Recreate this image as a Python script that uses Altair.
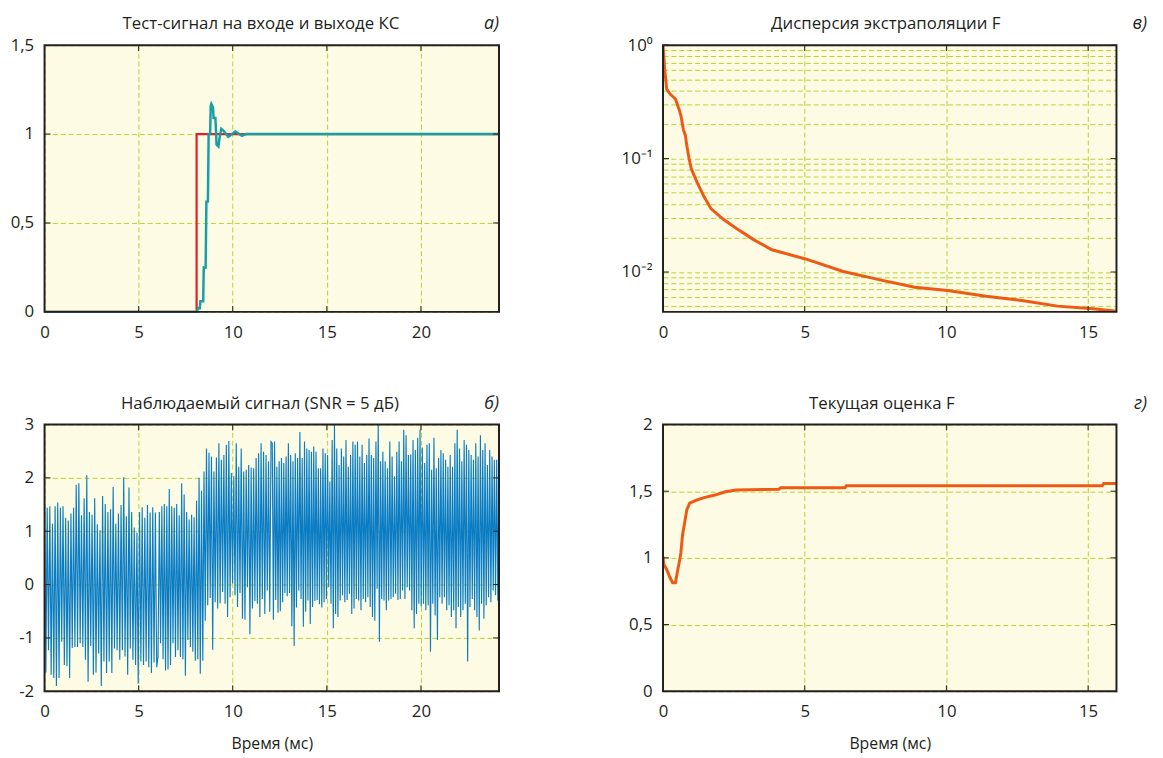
import altair as alt
import pandas as pd
import numpy as np

FONT = "Open Sans"
INK = "#231F20"
BG = "#FDFBE3"
GRID = "#B8D232"
WL, WR, H = 460, 459, 270

# ---------------- panel а: test signal in/out ----------------
step_t = [0.0, 8.08, 8.08, 24.15]
step_v = [0.0, 0.0, 1.0, 1.0]
resp_t = [0.0, 8.10, 8.15, 8.25, 8.28, 8.43, 8.46, 8.56, 8.60, 8.68, 8.72, 8.80, 8.83,
          8.86, 8.95, 8.98, 9.08, 9.14, 9.24, 9.30, 9.39, 9.50, 9.76, 10.14, 10.49, 10.70, 24.15]
resp_v = [0.0, 0.0, 0.02, 0.02, 0.06, 0.06, 0.25, 0.25, 0.62, 0.62, 1.0, 1.0, 1.16,
          1.17, 1.15, 1.09, 1.09, 0.94, 0.93, 0.98, 1.03, 1.02, 0.985, 1.015, 0.99, 1.0, 1.0]

# ---------------- panel б: observed signal ----------------
seg_bounds = [0.0, 6.1, 12.1, 18.1, 24.15]
peaks1 = [1.53, 1.44, 1.47, 1.14, 1.47, 1.54, 1.44, 1.47, 1.25, 1.2, 1.33, 1.44, 1.87, 1.9, 1.30,
          1.62, 2.05, 1.36, 1.31, 1.62, 1.13, 1.02, 1.66, 1.51, 1.36, 1.41, 1.83, 1.14, 1.33, 1.49,
          2.01, 1.28, 1.82, 1.36, 1.07, 0.97, 1.36, 1.45, 1.25, 1.49, 1.35, 1.45, 1.35]
troughs1 = [-1.65, -1.23, -1.69, -1.75, -1.9, -1.75, -1.07, -1.51, -1.53, -1.75, -1.19, -1.17, -1.17,
            -1.1, -1.17, -1.41, -1.82, -1.15, -1.69, -1.65, -1.29, -1.9, -1.44, -1.66, -1.44, -1.66,
            -1.2, -1.23, -1.41, -1.23, -1.35, -1.69, -1.2, -1.41, -1.51, -1.86, -1.44, -1.51, -1.44,
            -1.55, -1.66, -1.46, -1.55, -1.35]
peaks2 = [1.36, 1.47, 1.51, 1.47, 1.79, 1.47, 1.44, 1.51, 1.30, 1.90, 1.69, 1.36, 1.22, 1.31, 1.26,
          1.57, 2.0, 1.76, 2.12, 2.55, 2.47, 2.40, 2.12, 2.38, 2.65, 2.34, 2.43, 2.62, 2.69, 2.09,
          2.03, 2.65, 2.21, 2.55, 2.12, 2.15, 2.24, 2.19, 2.18, 2.37, 2.46, 2.65, 2.49, 2.43, 2.31, 2.68]
troughs2 = [-1.1, -1.4, -1.61, -1.59, -1.51, -1.1, -1.36, -1.23, -1.36, -1.4, -1.71, -1.04, -1.17,
            -1.26, -1.43, -1.4, -1.67, -1.43, -0.68, -0.39, -0.25, -1.22, -0.33, -0.45, -0.35, -0.14,
            -0.36, -0.61, -0.24, 0.02, -0.2, -0.42, -0.16, -0.64, -0.66, -0.05, -0.93, -0.45, -0.31,
            -0.36, -0.61, -0.27, -0.55, -0.11, -0.51]
peaks3 = [2.65, 2.68, 2.21, 2.31, 2.37, 2.28, 2.40, 2.65, 2.43, 2.31, 2.46, 2.37, 2.86, 2.37, 2.68,
          2.55, 2.52, 2.49, 2.59, 2.49, 2.18, 2.18, 2.55, 2.46, 2.43, 1.93, 2.71, 3.0, 2.55, 2.24,
          2.55, 2.40, 2.71, 2.21, 2.43, 2.68, 2.62, 2.68, 2.40, 2.62, 2.28, 2.43, 2.74, 2.43, 2.37,
          2.68, 3.0, 2.31, 2.49]
troughs3 = [-0.66, -0.29, -0.53, -0.5, -0.33, -0.16, -0.22, -0.16, -0.78, -1.15, -0.43, -0.11, -0.27,
            -0.79, -0.51, -0.3, -0.74, -0.42, -0.31, -0.29, -0.37, -0.43, -0.33, -0.27, -0.05, -0.36,
            -0.82, -0.55, -0.61, -0.3, -0.2, -0.33, -0.29, -0.17, -0.55, -0.45, -0.27, -0.3, -0.48,
            -0.27, -0.33, -0.24, -0.42, -0.61, -0.68, -0.08, -1.07, -0.27, -0.3]
peaks4 = [2.31, 2.18, 2.68, 2.40, 2.03, 2.49, 2.68, 2.31, 2.9, 2.8, 2.43, 2.44, 2.71, 2.52, 2.75,
          2.9, 2.57, 2.28, 2.62, 2.65, 2.15, 2.75, 2.18, 2.37, 2.52, 2.46, 2.34, 2.21, 2.43, 2.21,
          2.65, 2.9, 2.55, 2.31, 2.71, 2.62, 2.52, 2.43, 2.34, 2.65, 2.40, 2.8, 2.52, 2.65, 2.24,
          2.52, 2.40, 2.34, 2.34, 2.34]
troughs4 = [-0.48, -0.3, -0.27, -0.24, -0.17, -0.29, -0.27, -0.11, -0.27, -0.05, -0.11, -0.48, -0.82,
            -0.55, -0.36, -0.41, -0.36, -0.48, -0.39, -1.26, -0.36, -0.58, -1.04, -0.24, -0.36, -0.24,
            -0.48, -0.39, -0.61, -0.48, -0.82, -0.42, -0.61, -0.48, -0.36, -1.44, -0.42, -0.27, -0.48,
            -0.61, -0.86, -0.36, -0.64, -0.39, -0.24, -0.33, -0.11, -0.2, -0.3]

# ---------------- panel в: extrapolation variance ----------------
disp_t = [0.0, 0.06, 0.13, 0.25, 0.44, 0.57, 0.63, 0.72, 0.79, 0.84, 0.92, 1.0, 1.2, 1.45, 1.7,
          2.14, 2.58, 3.21, 3.84, 5.0, 6.36, 7.62, 8.88, 10.04, 11.4, 12.66, 13.92, 15.18, 16.0]
disp_v = [1.0, 0.61, 0.41, 0.37, 0.335, 0.27, 0.24, 0.18, 0.16, 0.13, 0.1, 0.081, 0.062, 0.046,
          0.036, 0.029, 0.0243, 0.0192, 0.0157, 0.0131, 0.0101, 0.00857, 0.00734, 0.00687,
          0.00612, 0.00561, 0.005, 0.00474, 0.0045]

# ---------------- panel г: current estimate ----------------
est_t = [0.0, 0.03, 0.13, 0.25, 0.34, 0.44, 0.5, 0.57, 0.63, 0.69, 0.76, 0.84, 0.94, 1.2, 1.45,
         1.83, 2.2, 2.58, 4.09, 4.15, 6.42, 6.47, 15.5, 15.55, 16.0]
est_v = [1.012, 0.95, 0.913, 0.851, 0.814, 0.814, 0.888, 0.963, 1.037, 1.174, 1.26, 1.36, 1.41,
         1.434, 1.452, 1.471, 1.496, 1.509, 1.514, 1.526, 1.526, 1.541, 1.541, 1.558, 1.558]

log_major = [0.01, 0.1, 1]
log_grid = [0.005, 0.006, 0.007, 0.008, 0.009, 0.01, 0.02, 0.03, 0.04, 0.05, 0.06, 0.07, 0.08,
            0.09, 0.1, 0.2, 0.3, 0.4, 0.5, 0.6, 0.7, 0.8, 0.9, 1]

# ---------------- build signal table ----------------
sig_rows = []
segs = [(peaks1, troughs1), (peaks2, troughs2), (peaks3, troughs3), (peaks4, troughs4)]
for i, (pk, tr) in enumerate(segs):
    vals = []
    for j in range(max(len(pk), len(tr))):
        if j < len(pk):
            vals.append(pk[j])
        if j < len(tr):
            vals.append(tr[j])
    last = i == len(segs) - 1
    ts = np.linspace(seg_bounds[i], seg_bounds[i + 1], len(vals), endpoint=last)
    sig_rows += [{"t": float(a), "v": b} for a, b in zip(ts, vals)]
sig_df = pd.DataFrame(sig_rows)

NUM = "replace(replace(format(datum.value, '~g'), '.', ','), '\u2212', '-')"


def X(domain, values, title=None):
    return alt.X("t:Q", scale=alt.Scale(domain=domain, nice=False, zero=False),
                 axis=alt.Axis(values=values, title=title, labelFlush=False, labelOverlap=False,
                               labelPadding=13, titlePadding=16, labelExpr=NUM))


def Y(domain, values, log=False, grid_values=None):
    if log:
        scale = alt.Scale(type="log", domain=domain, nice=False)
        axis = alt.Axis(values=grid_values, title=None, labelOverlap=False, labelPadding=11,
                        labelExpr="datum.value == 1 ? '10⁰' : (abs(datum.value - 0.1) < 1e-9 ? '10⁻¹' : (abs(datum.value - 0.01) < 1e-12 ? '10⁻²' : ''))")
    else:
        scale = alt.Scale(domain=domain, nice=False, zero=False)
        axis = alt.Axis(values=values, title=None, labelExpr=NUM, labelOverlap=False, labelPadding=11)
    return alt.Y("v:Q", scale=scale, axis=axis)


def ticks(xvals, yvals, xe, ye, W, L=6):
    xd = pd.DataFrame({"t": xvals})
    yd = pd.DataFrame({"v": yvals})
    tb = alt.Chart(xd).mark_rule(color=INK, strokeWidth=1).encode(x=xe, y=alt.value(H), y2=alt.value(H - L))
    tt = alt.Chart(xd).mark_rule(color=INK, strokeWidth=1).encode(x=xe, y=alt.value(0), y2=alt.value(L))
    tl = alt.Chart(yd).mark_rule(color=INK, strokeWidth=1).encode(y=ye, x=alt.value(0), x2=alt.value(L))
    tr = alt.Chart(yd).mark_rule(color=INK, strokeWidth=1).encode(y=ye, x=alt.value(W - L), x2=alt.value(W))
    return [tb, tt, tl, tr]


def frame(W):
    d = pd.DataFrame({"a": [0]})
    return alt.Chart(d).mark_rect(fill=None, fillOpacity=0, stroke=INK, strokeWidth=2).encode(
        x=alt.value(0), x2=alt.value(W), y=alt.value(0), y2=alt.value(H))


def labels(title, tag, W, tag_x, title_dx):
    d = pd.DataFrame({"a": [0]})
    t1 = alt.Chart(d).mark_text(text=title, font=FONT, fontSize=17, color=INK, align="center",
                                baseline="middle").encode(x=alt.value(W / 2 + title_dx), y=alt.value(-21))
    t2 = alt.Chart(d).mark_text(text=tag, font=FONT, fontSize=18, fontStyle="italic", color=INK,
                                align="right", baseline="middle").encode(x=alt.value(tag_x), y=alt.value(-21))
    return [t1, t2]


# panel а
xa = X([0, 24.15], [0, 5, 10, 15, 20])
ya = Y([0, 1.5], [0, 0.5, 1, 1.5])
a_red = alt.Chart(pd.DataFrame({"t": step_t, "v": step_v, "o": range(len(step_t))})).mark_line(
    color="#E41E26", strokeWidth=2.2).encode(x=xa, y=ya, order="o:Q")
a_teal = alt.Chart(pd.DataFrame({"t": resp_t, "v": resp_v, "o": range(len(resp_t))})).mark_line(
    color="#16A0A6", strokeWidth=2.5).encode(x=xa, y=ya, order="o:Q")
pa = alt.layer(a_red, a_teal, *ticks([5, 10, 15, 20], [0.5, 1], xa, ya, WL), frame(WL),
               *labels("Тест-сигнал на входе и выходе КС", "а)", WL, WL, -11)).properties(width=WL, height=H)

# panel б
xb = X([0, 24.15], [0, 5, 10, 15, 20], title="Время (мс)")
yb = Y([-2, 3], [-2, -1, 0, 1, 2, 3])
b_line = alt.Chart(sig_df).mark_line(color="#0A7CC4", strokeWidth=1.15, clip=True).encode(x=xb, y=yb, order="t:Q")
pb = alt.layer(b_line, *ticks([5, 10, 15, 20], [-1, 0, 1, 2], xb, yb, WL), frame(WL),
               *labels("Наблюдаемый сигнал (SNR = 5 дБ)", "б)", WL, WL, -12)).properties(width=WL, height=H)

# panel в
xc = X([0, 16.0], [0, 5, 10, 15])
yc = Y([0.00445, 1], None, log=True, grid_values=log_grid)
c_line = alt.Chart(pd.DataFrame({"t": disp_t, "v": disp_v})).mark_line(
    color="#EE5A16", strokeWidth=3, clip=True).encode(x=xc, y=yc, order="t:Q")
pc = alt.layer(c_line, *ticks([5, 10, 15], log_major, xc, yc, WR), frame(WR),
               *labels("Дисперсия экстраполяции F", "в)", WR, WR + 31, -4)).properties(width=WR, height=H)

# panel г
xd_ = X([0, 16.0], [0, 5, 10, 15], title="Время (мс)")
yd_ = Y([0, 2], [0, 0.5, 1, 1.5, 2])
d_line = alt.Chart(pd.DataFrame({"t": est_t, "v": est_v})).mark_line(
    color="#EE5A16", strokeWidth=3, clip=True).encode(x=xd_, y=yd_, order="t:Q")
pd_ = alt.layer(d_line, *ticks([5, 10, 15], [0.5, 1, 1.5], xd_, yd_, WR), frame(WR),
                *labels("Текущая оценка F", "г)", WR, WR + 31, -8)).properties(width=WR, height=H)

chart = alt.concat(pa, pc, pb, pd_, columns=2, spacing={"row": 114, "column": 166}, bounds="flush").properties(
    padding={"left": 2, "top": 3, "right": 8, "bottom": 5}
).configure_view(
    fill=BG, stroke=None
).configure_axis(
    domain=False, ticks=False, grid=True, gridColor=GRID, gridDash=[5, 3], gridWidth=1, gridOpacity=1,
    labelFont=FONT, labelFontSize=17, labelColor=INK,
    titleFont=FONT, titleFontSize=16, titleFontWeight="normal", titleColor=INK
)

chart.save("out.html", embed_options={"renderer": "svg", "actions": False})
